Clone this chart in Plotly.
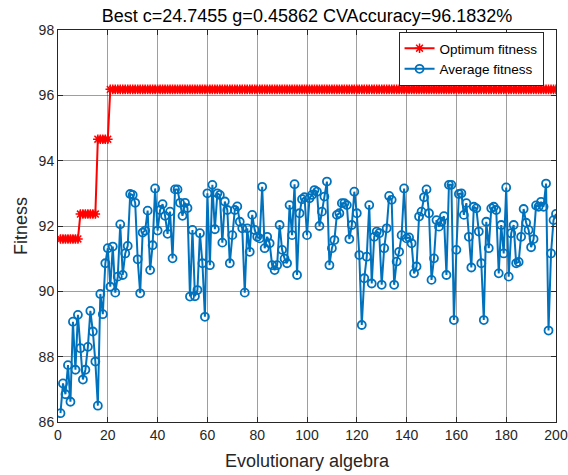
import plotly.graph_objects as go

# Generation index
generations = list(range(1, 201))

# Mean fitness of the population at each generation (%)
average_fitness = [
    86.27, 87.18, 86.85, 87.74, 86.62, 89.07, 87.60, 89.28, 88.26, 87.30,
    87.60, 88.30, 89.40, 88.77, 87.85, 86.50, 89.92, 89.30, 90.86, 91.32,
    90.14, 91.37, 89.96, 90.45, 92.05, 90.50, 91.16, 91.39, 92.98, 92.95,
    92.71, 90.98, 89.94, 91.80, 91.86, 92.47, 90.65, 91.41, 93.15, 91.86,
    92.49, 92.67, 92.31, 91.76, 92.44, 91.01, 93.12, 93.12, 92.71, 92.31,
    92.71, 92.55, 89.84, 91.88, 89.85, 90.04, 91.78, 90.86, 89.22, 93.00,
    90.80, 93.26, 91.90, 93.00, 92.95, 91.49, 92.75, 92.49, 90.86, 91.72,
    92.49, 92.60, 92.13, 91.93, 89.96, 91.93, 91.21, 92.34, 91.88, 91.67,
    91.62, 93.20, 91.32, 91.67, 91.47, 90.80, 90.65, 90.80, 92.03, 91.27,
    91.00, 90.86, 92.64, 91.72, 93.28, 90.50, 92.39, 92.82, 92.88, 91.72,
    92.85, 92.95, 93.10, 93.05, 92.00, 92.44, 92.90, 93.36, 90.80, 91.32,
    91.57, 92.34, 92.39, 92.70, 92.70, 92.64, 91.60, 92.03, 93.05, 92.39,
    91.11, 88.97, 90.40, 91.06, 92.64, 90.24, 91.67, 91.83, 91.78, 90.20,
    91.32, 91.93, 92.92, 92.80, 90.20, 90.91, 91.21, 91.72, 93.15, 91.62,
    91.65, 91.47, 90.55, 90.76, 92.29, 92.44, 92.88, 93.12, 92.39, 90.35,
    91.01, 92.18, 91.98, 92.13, 92.30, 90.50, 93.26, 93.26, 89.12, 91.27,
    92.98, 93.00, 92.34, 92.70, 91.67, 90.73, 92.59, 92.54, 91.83, 90.86,
    89.12, 92.13, 91.32, 92.54, 92.59, 92.49, 90.55, 92.03, 91.16, 93.18,
    90.45, 91.78, 92.03, 90.86, 90.90, 91.67, 92.52, 92.10, 91.88, 91.35,
    91.60, 92.63, 92.59, 92.74, 92.59, 93.30, 88.80, 91.16, 92.18, 92.37,
]

# Best fitness found so far: generation where each new best appears, and its value (%)
best_found_at = [1, 9, 16, 21]
best_values = [91.6031, 92.3664, 94.6565, 96.1832]

optimum_fitness = []
for g in generations:
    level = best_values[0]
    for start, val in zip(best_found_at, best_values):
        if g >= start:
            level = val
    optimum_fitness.append(level)

x_ticks = list(range(0, 201, 20))
y_ticks = list(range(86, 99, 2))

FONT = "Liberation Sans, Arial, Helvetica, sans-serif"
TXT = "#262626"

fig = go.Figure()
fig.add_trace(go.Scatter(
    x=generations, y=optimum_fitness, mode="lines+markers",
    name="Optimum fitness",
    line=dict(color="#FF0000", width=2),
    marker=dict(symbol="asterisk-open", size=8, color="#FF0000",
                line=dict(color="#FF0000", width=1.5)),
))
fig.add_trace(go.Scatter(
    x=generations, y=average_fitness, mode="lines+markers",
    name="Average fitness",
    line=dict(color="#0072BD", width=2),
    marker=dict(symbol="circle-open", size=8, color="#0072BD",
                line=dict(color="#0072BD", width=1.8)),
))

axis_common = dict(
    showline=True, linecolor=TXT, linewidth=1, mirror="ticks",
    ticks="inside", ticklen=5, tickcolor=TXT,
    showgrid=True, gridcolor="rgba(0,0,0,0.38)", gridwidth=1,
    zeroline=False, automargin=False, ticklabeloverflow="allow",
    tickfont=dict(family=FONT, size=14, color=TXT),
)

fig.update_xaxes(
    range=[0, 200], tickvals=x_ticks,
    title=dict(text="Evolutionary algebra",
               font=dict(family=FONT, size=18, color=TXT), standoff=12),
    **axis_common,
)
fig.update_yaxes(
    range=[86, 98], tickvals=y_ticks,
    title=dict(text="Fitness",
               font=dict(family=FONT, size=18, color=TXT), standoff=6),
    **axis_common,
)

fig.update_layout(
    width=568, height=475,
    margin=dict(l=58, r=12, t=30, b=53),
    paper_bgcolor="white", plot_bgcolor="white",
    font=dict(family=FONT, color=TXT),
    title=dict(text="Best c=24.7455 g=0.45862 CVAccuracy=96.1832%",
               font=dict(family=FONT, size=18, color="#000000"),
               x=0.5, xref="paper", xanchor="center",
               y=1 - 16 / 475, yref="container", yanchor="middle"),
    showlegend=True,
    legend=dict(
        x=0.975, y=0.995, xanchor="right", yanchor="top",
        bgcolor="white", bordercolor=TXT, borderwidth=1,
        font=dict(family=FONT, size=13.5, color="#000000"),
        itemwidth=30, tracegroupgap=0,
    ),
)

fig.write_html("out.html")
